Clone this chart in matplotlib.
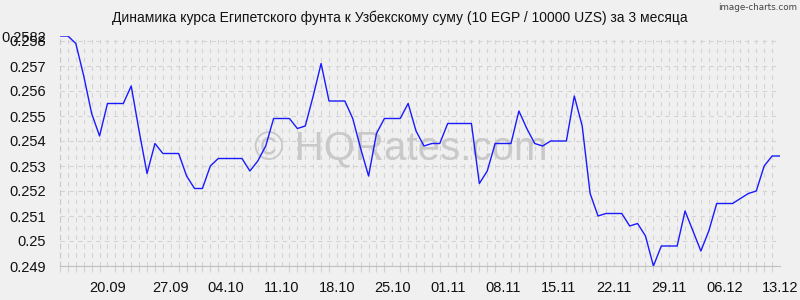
import matplotlib
matplotlib.use("Agg")
import matplotlib.pyplot as plt
import numpy as np

plt.rcParams['font.family'] = ['Liberation Sans', 'DejaVu Sans']

title = "Динамика курса Египетского фунта к Узбекскому суму (10 EGP / 10000 UZS) за 3 месяца"

rates = [
    0.2582, 0.2582, 0.2579, 0.2566, 0.2551, 0.2542, 0.2555, 0.2555, 0.2555, 0.2562,
    0.2544, 0.2527, 0.2539, 0.2535, 0.2535, 0.2535, 0.2526, 0.2521, 0.2521, 0.2530,
    0.2533, 0.2533, 0.2533, 0.2533, 0.2528, 0.2532, 0.2538, 0.2549, 0.2549, 0.2549,
    0.2545, 0.2546, 0.2558, 0.2571, 0.2556, 0.2556, 0.2556, 0.2549, 0.2537, 0.2526,
    0.2543, 0.2549, 0.2549, 0.2549, 0.2555, 0.2544, 0.2538, 0.2539, 0.2539, 0.2547,
    0.2547, 0.2547, 0.2547, 0.2523, 0.2528, 0.2539, 0.2539, 0.2539, 0.2552, 0.2545,
    0.2539, 0.2538, 0.2540, 0.2540, 0.2540, 0.2558, 0.2546, 0.2519, 0.2510, 0.2511,
    0.2511, 0.2511, 0.2506, 0.2507, 0.2502, 0.2490, 0.2498, 0.2498, 0.2498, 0.2512,
    0.2504, 0.2496, 0.2504, 0.2515, 0.2515, 0.2515, 0.2517, 0.2519, 0.2520, 0.2530,
    0.2534, 0.2534,
]

date_labels = ["20.09", "27.09", "04.10", "11.10", "18.10", "25.10", "01.11",
               "08.11", "15.11", "22.11", "29.11", "06.12", "13.12"]
date_label_index = [6, 14, 21, 28, 35, 42, 49, 56, 63, 70, 77, 84, 91]

y_ticks = [0.249, 0.250, 0.251, 0.252, 0.253, 0.254, 0.255, 0.256, 0.257, 0.258, 0.2582]

bg = '#f0f0f0'
fig = plt.figure(figsize=(8, 3), dpi=100, facecolor=bg)
ax = fig.add_axes([60/800, 34/300, 720/800, 230/300])
ax.set_facecolor(bg)

x = np.arange(len(rates))
ax.set_xlim(0, len(rates) - 1)
ax.set_ylim(min(rates), max(rates))

# watermark
ax.text(0.473, 0.461, "© HQRates.com", transform=ax.transAxes, ha='center', va='baseline',
        fontsize=29, color='#c9c9c9', zorder=1)

# grid
grid_kw = dict(color='#d4d4d4', linewidth=0.8, linestyle=(0, (4, 4)), zorder=0)
for xi in x:
    ax.axvline(xi, **grid_kw)
for yv in y_ticks[:-1]:
    ax.axhline(yv, **grid_kw)

ax.plot(x, rates, color='#1a1aff', linewidth=1.0, zorder=3)

for s in ['top', 'right']:
    ax.spines[s].set_visible(False)
ax.spines['left'].set_color('#c8c8c8')
ax.spines['left'].set_linestyle((0, (4, 4)))
ax.spines['left'].set_linewidth(0.8)
ax.spines['bottom'].set_color('#c0c0c0')
ax.spines['bottom'].set_linewidth(0.8)

ax.set_yticks(y_ticks)
ax.set_yticklabels(["%g" % v for v in y_ticks])
ax.set_xticks(date_label_index)
ax.set_xticklabels(date_labels)
ax.set_xticks(x, minor=True)
ax.tick_params(axis='y', length=0, pad=10, labelsize=10.5, labelcolor='#111111')
ax.tick_params(axis='x', which='major', length=0, pad=11, labelsize=10.5, labelcolor='#111111')
ax.tick_params(axis='x', which='minor', length=4, width=0.8, color='#d0d0d0', direction='out', pad=0)

fig.text(0.5, 1 - 18/300, title, ha='center', va='center', fontsize=10, color='#111111')
fig.text(0.996, 1 - 8/300, "image-charts.com", ha='right', va='center', fontsize=6.3,
         color='#444444', family=['DejaVu Sans', 'Liberation Sans'])

fig.savefig("out.png", dpi=100, facecolor=bg)
